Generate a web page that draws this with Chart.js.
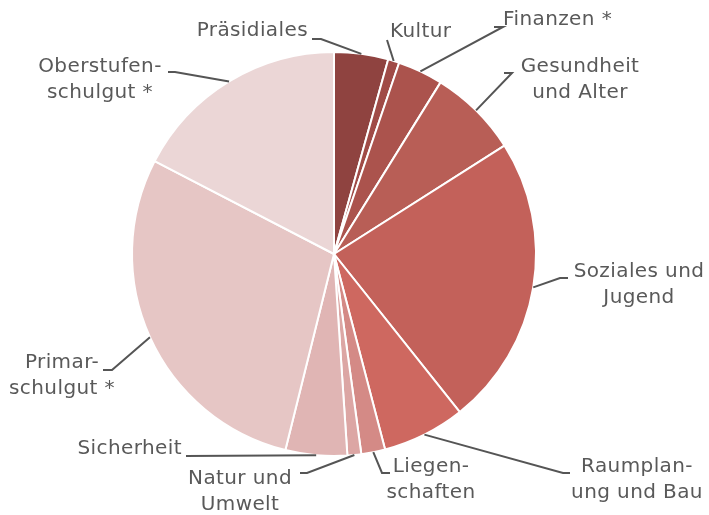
<!DOCTYPE html>
<html>
<head>
<meta charset="utf-8">
<script src="https://cdn.jsdelivr.net/npm/chart.js@4/dist/chart.umd.min.js"></script>
<style>
  body { margin: 0; background: #fff; }
  canvas { display: block; }
</style>
</head>
<body>
<canvas id="pie" width="709" height="515"></canvas>
<script>
// Departemente (Uhrzeigersinn ab 12 Uhr)
const categories = [
    ['Präsidiales'],
    ['Kultur'],
    ['Finanzen *'],
    ['Gesundheit', 'und Alter'],
    ['Soziales und', 'Jugend'],
    ['Raumplan-', 'ung und Bau'],
    ['Liegen-', 'schaften'],
    ['Natur und', 'Umwelt'],
    ['Sicherheit'],
    ['Primar-', 'schulgut *'],
    ['Oberstufen-', 'schulgut *']
];
// Anteile in Prozent (aus dem Bild geschätzt)
const shares = [4.3, 0.9, 3.6, 7.1, 23.2, 6.6, 1.9, 1.1, 4.9, 28.6, 17.3];

const colors = [
    '#8f4340', '#a04b47', '#ab534d', '#b85e56', '#c3615a', '#ce6860',
    '#d48a86', '#dca6a4', '#e0b5b4', '#e6c6c5', '#ebd6d6'
];

// Beschriftung: Knick, Ende der Linie, Textposition
const labelLayout = [
    { elbow: [321, 39], end: [312, 39], x: 308, y: 31, align: 'right' },
    { elbow: [387, 40], end: [387, 40], x: 390, y: 32, align: 'left' },
    { elbow: [503, 27], end: [494, 27], x: 503, y: 20, align: 'left' },
    { elbow: [512, 73], end: [504, 73], x: 580, y: 67, align: 'center' },
    { elbow: [560, 278], end: [568, 278], x: 639, y: 272, align: 'center' },
    { elbow: [563, 473], end: [570, 473], x: 637, y: 467, align: 'center' },
    { elbow: [382, 473], end: [390, 473], x: 431, y: 467, align: 'center' },
    { elbow: [307, 473], end: [300, 473], x: 240, y: 479, align: 'center' },
    { elbow: [186, 456], end: [186, 456], x: 182, y: 449, align: 'right' },
    { elbow: [112, 370], end: [103, 370], x: 62, y: 363, align: 'center' },
    { elbow: [175, 72], end: [168, 72], x: 100, y: 67, align: 'center' }
];

const outsideLabels = {
    id: 'outsideLabels',
    afterDraw(chart) {
        const ctx = chart.ctx;
        const arcs = chart.getDatasetMeta(0).data;
        ctx.save();
        ctx.strokeStyle = '#555555';
        ctx.lineWidth = 2;
        ctx.fillStyle = '#595959';
        ctx.font = '20px "DejaVu Sans"';
        ctx.letterSpacing = '0.4px';
        ctx.textBaseline = 'middle';
        arcs.forEach((arc, i) => {
            const p = arc.getProps(['x', 'y', 'startAngle', 'endAngle', 'outerRadius'], true);
            const mid = (p.startAngle + p.endAngle) / 2;
            const sx = p.x + Math.cos(mid) * p.outerRadius;
            const sy = p.y + Math.sin(mid) * p.outerRadius;
            const lay = labelLayout[i];
            ctx.beginPath();
            ctx.moveTo(sx, sy);
            ctx.lineTo(lay.elbow[0], lay.elbow[1]);
            ctx.lineTo(lay.end[0], lay.end[1]);
            ctx.stroke();
            ctx.textAlign = lay.align;
            categories[i].forEach((line, j) => {
                ctx.fillText(line, lay.x, lay.y + j * 26);
            });
        });
        ctx.restore();
    }
};

new Chart(document.getElementById('pie'), {
    type: 'pie',
    data: {
        labels: categories.map(c => c.join(' ')),
        datasets: [{
            data: shares,
            backgroundColor: colors,
            borderColor: '#ffffff',
            borderWidth: 2
        }]
    },
    options: {
        responsive: false,
        animation: false,
        layout: { padding: { left: 131, right: 172, top: 51, bottom: 58 } },
        plugins: {
            legend: { display: false },
            tooltip: { enabled: false }
        }
    },
    plugins: [outsideLabels]
});
</script>
</body>
</html>
